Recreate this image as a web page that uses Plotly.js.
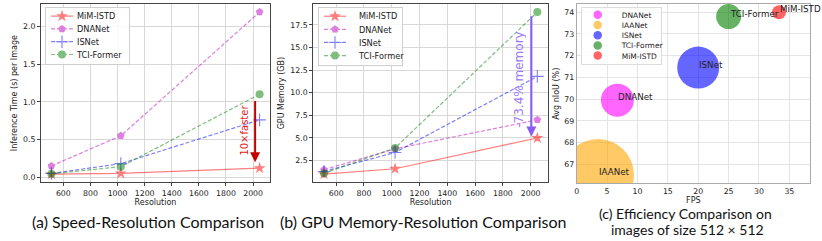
<!DOCTYPE html>
<html><head><meta charset="utf-8">
<script src="https://cdn.plot.ly/plotly-3.0.1.min.js"></script>
<style>html,body{margin:0;padding:0;background:#fff;} #chart{width:822px;height:241px;}</style>
</head><body><div id="chart"></div>
<script>
// ---------- data ----------
const resolutions = [512, 1024, 2048];
const methods = ['MiM-ISTD', 'DNANet', 'ISNet', 'TCI-Former'];
const timeMiM = [0.04, 0.05, 0.12];
const timeDNANet = [0.15, 0.55, 2.19];
const timeISNet = [0.05, 0.18, 0.76];
const timeTCI = [0.045, 0.14, 1.10];
const memMiM = [1.0, 1.6, 5.0];
const memDNANet = [1.5, 3.8, 7.0];
const memISNet = [1.3, 3.4, 11.8];
const memTCI = [1.1, 3.9, 18.9];
const bubbleModels = ['DNANet', 'IAANet', 'ISNet', 'TCI-Former', 'MiM-ISTD'];
const bubbleFPS = [6.7, 3.5, 20.0, 25.0, 33.3];
const bubbleIoU = [69.95, 66.5, 71.45, 73.8, 74.0];
const bubbleValue = [33, 72, 42, 25, 14];
const resTicks = [600, 800, 1000, 1200, 1400, 1600, 1800, 2000];
const timeTicks = [0, 0.5, 1.0, 1.5, 2.0];
const memTicks = [2.5, 5.0, 7.5, 10.0, 12.5, 15.0, 17.5];
const fpsTicks = [0, 5, 10, 15, 20, 25, 30, 35];
const iouTicks = [67, 68, 69, 70, 71, 72, 73, 74];
const captions = ['(a) Speed-Resolution Comparison', '(b) GPU Memory-Resolution Comparison',
  '(c) Efficiency Comparison on', 'images of size 512 × 512'];

// ---------- styles ----------
const FONT = 'DejaVu Sans, sans-serif';
const W = 822, H = 241;
const lineStyle = {
  'MiM-ISTD': {color: '#ff0000', dash: 'solid', symbol: 'star', size: 9},
  'DNANet': {color: '#bf00bf', dash: '4px,2px', symbol: 'pentagon', size: 8},
  'ISNet': {color: '#0000ff', dash: '4px,2px', symbol: 'cross-thin', size: 9},
  'TCI-Former': {color: '#008000', dash: '4px,2px', symbol: 'circle', size: 8}
};
const bubbleColor = {'DNANet': '#ff00ff', 'IAANet': '#ffa500', 'ISNet': '#0000ff', 'TCI-Former': '#008000', 'MiM-ISTD': '#ff0000'};

const timeSeries = {'MiM-ISTD': timeMiM, 'DNANet': timeDNANet, 'ISNet': timeISNet, 'TCI-Former': timeTCI};
const memSeries = {'MiM-ISTD': memMiM, 'DNANet': memDNANet, 'ISNet': memISNet, 'TCI-Former': memTCI};

const traces = [];
function lineTrace(name, ys, xa, ya, lg) {
  const s = lineStyle[name];
  return {
    type: 'scatter', mode: 'lines+markers', name: name, x: resolutions, y: ys,
    xaxis: xa, yaxis: ya, legend: lg, opacity: 0.5,
    line: {color: s.color, dash: s.dash, width: 1.2},
    marker: {symbol: s.symbol, size: s.size, color: s.color,
      line: {color: s.color, width: s.symbol === 'cross-thin' ? 1.1 : 0}}
  };
}
methods.forEach(m => traces.push(lineTrace(m, timeSeries[m], 'x', 'y', 'legend')));
methods.forEach(m => traces.push(lineTrace(m, memSeries[m], 'x2', 'y2', 'legend2')));
bubbleModels.forEach((m, i) => traces.push({
  type: 'scatter', mode: 'markers', name: m, x: [bubbleFPS[i]], y: [bubbleIoU[i]],
  xaxis: 'x3', yaxis: 'y3', legend: 'legend3', opacity: 0.6,
  marker: {size: bubbleValue[i], sizemode: 'diameter', color: bubbleColor[m], line: {width: 0}}
}));

const px = v => v / W;
const py = v => (H - v) / H;

function ax(extra, dark) {
  return Object.assign({
    ticks: dark ? 'outside' : '', ticklen: 3, tickwidth: 1, tickcolor: '#444',
    showline: true, mirror: true, linecolor: dark ? '#444' : '#aaa', linewidth: 1,
    showgrid: true, gridcolor: dark ? '#d8d8d8' : '#e4e4e4', gridwidth: 1, zeroline: false,
    tickfont: {family: FONT, size: 7.8, color: '#222'}, automargin: false, fixedrange: true
  }, extra);
}
const titleFont = {family: FONT, size: 8, color: '#222'};

const yDomAB = [py(182.3), py(4)];
const layout = {
  width: W, height: H, margin: {l: 0, r: 0, t: 0, b: 0},
  paper_bgcolor: '#fff', plot_bgcolor: '#fff', showlegend: true,
  font: {family: FONT, size: 8, color: '#222'},
  xaxis: ax({domain: [px(41), px(270)], anchor: 'y', range: [435.2, 2124.8], tickvals: resTicks,
    title: {text: 'Resolution', font: titleFont, standoff: 2}}, true),
  yaxis: ax({domain: yDomAB, anchor: 'x', range: [-0.0675, 2.2975], tickvals: timeTicks, tickformat: '.1f',
    title: {text: 'Inference Time (s) per Image', font: titleFont, standoff: 4}}, true),
  xaxis2: ax({domain: [px(313.3), px(548)], anchor: 'y2', range: [435.2, 2124.8], tickvals: resTicks,
    title: {text: 'Resolution', font: titleFont, standoff: 2}}, true),
  yaxis2: ax({domain: yDomAB, anchor: 'x2', range: [0.105, 19.795], tickvals: memTicks, tickformat: '.1f',
    title: {text: 'GPU Memory (GB)', font: titleFont, standoff: 4}}, true),
  xaxis3: ax({domain: [px(576.7), px(810)], anchor: 'y3', range: [0, 38.4], tickvals: fpsTicks,
    title: {text: 'FPS', font: titleFont, standoff: 0}}, false),
  yaxis3: ax({domain: [py(183.3), py(4)], anchor: 'x3', range: [66.12, 74.38], tickvals: iouTicks,
    title: {text: 'Avg nIoU (%)', font: titleFont, standoff: 3}}, false),
  legend: {x: px(45), y: py(6.7), xanchor: 'left', yanchor: 'top', bgcolor: 'rgba(255,255,255,0.85)',
    bordercolor: '#cfcfcf', borderwidth: 1, font: {family: FONT, size: 8.2, color: '#222'}},
  legend2: {x: px(318), y: py(6.7), xanchor: 'left', yanchor: 'top', bgcolor: 'rgba(255,255,255,0.85)',
    bordercolor: '#cfcfcf', borderwidth: 1, font: {family: FONT, size: 8.2, color: '#222'}},
  legend3: {x: px(580.7), y: py(6.7), xanchor: 'left', yanchor: 'top', bgcolor: 'rgba(255,255,255,0.85)',
    bordercolor: '#dcdcdc', borderwidth: 1, font: {family: FONT, size: 7.5, color: '#222'}, itemsizing: 'constant'},
  annotations: []
};

const ann = layout.annotations;
// arrow (a)
ann.push({xref: 'x', yref: 'y', axref: 'x', ayref: 'y', x: 2015, y: 0.2, ax: 2015, ay: 1.03, text: '',
  showarrow: true, arrowhead: 2, arrowsize: 1, arrowwidth: 2, arrowcolor: '#c40000', standoff: 0, startstandoff: 0});
ann.push({xref: 'x', yref: 'y', x: 1934, y: 0.62, text: '10×faster', textangle: -90, showarrow: false,
  xanchor: 'center', yanchor: 'middle', font: {family: FONT, size: 10, color: '#e01b1b'}});
// arrow (b)
ann.push({xref: 'x2', yref: 'y2', axref: 'x2', ayref: 'y2', x: 2005, y: 5.15, ax: 2005, ay: 18.6, text: '',
  showarrow: true, arrowhead: 2, arrowsize: 1, arrowwidth: 2, arrowcolor: '#8a5cf6', standoff: 0, startstandoff: 0});
ann.push({xref: 'x2', yref: 'y2', x: 1914, y: 11.4, text: '-73.4% memory', textangle: -90, showarrow: false,
  xanchor: 'center', yanchor: 'middle', font: {family: FONT, size: 12, color: '#9d7af7'}});
// bubble labels
bubbleModels.forEach((m, i) => ann.push({xref: 'x3', yref: 'y3', x: bubbleFPS[i], y: bubbleIoU[i], text: m,
  xanchor: 'left', yanchor: 'middle', yshift: 3, showarrow: false, borderpad: 0,
  font: {family: FONT, size: 8.7, color: '#222'}}));
// captions
const capPos = [[147.5, 221.7, 16], [423, 221.7, 16], [685.6, 213.3, 14], [687, 229.6, 14]];
captions.forEach((c, i) => ann.push({xref: 'paper', yref: 'paper', x: px(capPos[i][0]), y: py(capPos[i][1]),
  xanchor: 'center', yanchor: 'middle', text: c, showarrow: false, borderpad: 0,
  font: {family: 'Lato, sans-serif', size: capPos[i][2], color: '#111'}}));

function parseT(el) {
  const t = el.getAttribute('transform') || '';
  const m = t.match(/translate\(\s*([-\d.e]+)[ ,]+([-\d.e]+)\s*\)/);
  return m ? [parseFloat(m[1]), parseFloat(m[2])] : [0, 0];
}
function tidyLegend(gd, id, spacing, pad, markerPx) {
  const lg = gd.querySelector('g.' + id);
  if (!lg) return;
  const items = Array.from(lg.querySelectorAll('g.traces'));
  if (items.length < 2) return;
  const p0 = parseT(items[0]), p1 = parseT(items[1]);
  const h0 = p1[1] - p0[1];
  const top = p0[1] - h0 / 2 - 5;
  items.forEach((it, i) => {
    const p = parseT(it);
    it.setAttribute('transform', 'translate(' + p[0] + ',' + (top + pad + spacing / 2 + i * spacing) + ')');
    it.querySelectorAll('g.legendlines path').forEach(pa => pa.setAttribute('d', 'M5,0h22'));
    it.querySelectorAll('g.legendsymbols path.scatterpts').forEach(pa => {
      let sc = 1;
      if (markerPx) { const bb = pa.getBBox(); if (bb.width > 0) sc = markerPx / bb.width; }
      pa.setAttribute('transform', 'translate(16,0) scale(' + sc + ')');
    });
    it.querySelectorAll('text.legendtext').forEach(tx => tx.setAttribute('x', 31));
  });
  const bg = lg.querySelector('rect.bg');
  if (bg) {
    bg.setAttribute('height', top + 2 * pad + items.length * spacing + 1);
    bg.setAttribute('width', parseFloat(bg.getAttribute('width')) - 9);
  }
}

Plotly.newPlot('chart', traces, layout, {displayModeBar: false, staticPlot: true}).then(gd => {
  tidyLegend(gd, 'legend', 12.8, 2, null);
  tidyLegend(gd, 'legend2', 13.1, 2, null);
  tidyLegend(gd, 'legend3', 10.2, 2, 8.5);
});
</script>
</body></html>
